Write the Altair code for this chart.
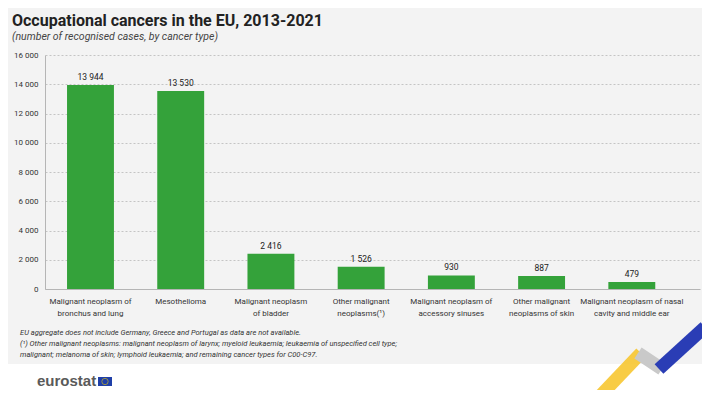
import altair as alt
import pandas as pd

categories = [
    "Malignant neoplasm of|bronchus and lung",
    "Mesothelioma",
    "Malignant neoplasm|of bladder",
    "Other malignant|neoplasms(¹)",
    "Malignant neoplasm of|accessory sinuses",
    "Other malignant|neoplasms of skin",
    "Malignant neoplasm of nasal|cavity and middle ear",
]
cases = [13944, 13530, 2416, 1526, 930, 887, 479]
y_ticks = [0, 2000, 4000, 6000, 8000, 10000, 12000, 14000, 16000]

title_text = "Occupational cancers in the EU, 2013-2021"
subtitle_text = "(number of recognised cases, by cancer type)"
notes = [
    "EU aggregate does not include Germany, Greece and Portugal as data are not available.",
    "(¹) Other malignant neoplasms: malignant neoplasm of larynx; myeloid leukaemia; leukaemia of unspecified cell type;",
    "malignant;  melanoma of skin; lymphoid leukaemia; and remaining cancer types for C00-C97.",
]

FONT = "Roboto, Liberation Sans Narrow, sans-serif"
GREEN = "#34A23A"

df = pd.DataFrame({"cat": categories, "cases": cases})

x_enc = alt.X(
    "cat:N",
    sort=categories,
    title=None,
    scale=alt.Scale(paddingInner=0.48, paddingOuter=0.37, align=0.33),
    axis=alt.Axis(
        labelExpr="split(datum.label, '|')",
        labelAngle=0,
        ticks=False,
        domainColor="#b5b5b5",
        labelFontSize=8,
        labelColor="#333333",
        labelPadding=8,
        labelLineHeight=12,
        labelFont=FONT,
        labelBaseline="top",
        labelOverlap=False,
    ),
)
y_enc = alt.Y(
    "cases:Q",
    title=None,
    scale=alt.Scale(domain=[0, 16000]),
    axis=alt.Axis(
        values=y_ticks,
        labelExpr="replace(format(datum.value, ',d'), ',', ' ')",
        grid=True,
        gridDash=[2, 2],
        gridColor="#c4c4c4",
        ticks=False,
        domainColor="#b5b5b5",
        labelPadding=7,
        labelFontSize=8,
        labelColor="#333333",
        labelFont=FONT,
        labelOverlap=False,
    ),
)

bars = alt.Chart(df).mark_bar(color=GREEN).encode(x=x_enc, y=y_enc)

labels = (
    alt.Chart(df)
    .transform_calculate(lbl="replace(format(datum.cases, ',d'), ',', ' ')")
    .mark_text(dy=-3, baseline="bottom", fontSize=8.5, font=FONT, color="#222222")
    .encode(x=x_enc, y=y_enc, text="lbl:N")
)

one = pd.DataFrame({"a": [0]})

white_bottom = alt.Chart(one).mark_rect(color="white").encode(
    x=alt.value(-40), x2=alt.value(700), y=alt.value(309), y2=alt.value(345)
)

title = alt.Chart(pd.DataFrame({"t": [title_text]})).mark_text(
    align="left", baseline="alphabetic", fontSize=16, fontWeight="bold", font=FONT, color="#222222"
).encode(x=alt.value(-33), y=alt.value(-29), text="t:N")

subtitle = alt.Chart(pd.DataFrame({"t": [subtitle_text]})).mark_text(
    align="left", baseline="alphabetic", fontSize=10.5, fontStyle="italic", font=FONT, color="#444444"
).encode(x=alt.value(-33), y=alt.value(-15), text="t:N")

notes_text = alt.Chart(pd.DataFrame({"t": ["\n".join(notes)]})).mark_text(
    align="left", baseline="alphabetic", fontSize=7.5, fontStyle="italic", font=FONT,
    color="#333333", lineBreak="\n", lineHeight=11,
).encode(x=alt.value(-25), y=alt.value(280), text="t:N")

logo_text = alt.Chart(pd.DataFrame({"t": ["eurostat"]})).mark_text(
    align="left", baseline="alphabetic", fontSize=15, fontWeight="bold",
    font="Liberation Sans, Arial, sans-serif", color="#5a5a5a",
).encode(x=alt.value(-8), y=alt.value(331), text="t:N")

flag = alt.Chart(one).mark_rect(color="#1f3fa8").encode(
    x=alt.value(53), x2=alt.value(67), y=alt.value(322), y2=alt.value(331)
)
flag_stars = alt.Chart(one).mark_point(shape="circle", size=40, color="#f5d000", strokeWidth=0.8, filled=False).encode(
    x=alt.value(60), y=alt.value(326.5)
)

ribbon_yellow = alt.Chart(one).mark_rule(color="#f7c325", strokeWidth=13, strokeCap="butt", opacity=0.85).encode(
    x=alt.value(556), y=alt.value(340), x2=alt.value(596), y2=alt.value(298)
)
ribbon_grey = alt.Chart(one).mark_rule(color="#c9c9c9", strokeWidth=13, strokeCap="butt").encode(
    x=alt.value(593), y=alt.value(298), x2=alt.value(617), y2=alt.value(314)
)
ribbon_blue = alt.Chart(one).mark_rule(color="#2a3db5", strokeWidth=13, strokeCap="butt").encode(
    x=alt.value(614), y=alt.value(314), x2=alt.value(660), y2=alt.value(272)
)

chart = (
    alt.layer(
        white_bottom,
        bars,
        labels,
        title,
        subtitle,
        notes_text,
        ribbon_yellow,
        ribbon_grey,
        ribbon_blue,
        logo_text,
        flag,
        flag_stars,
    )
    .properties(
        width=655,
        height=234,
        autosize=alt.AutoSizeParams(type="none"),
        padding={"left": 37, "top": 47, "right": 2, "bottom": 101},
    )
    .configure(background="#f3f3f3")
    .configure_view(stroke=None)
)

chart.save("out.html", embed_options={"renderer": "svg", "actions": False})
